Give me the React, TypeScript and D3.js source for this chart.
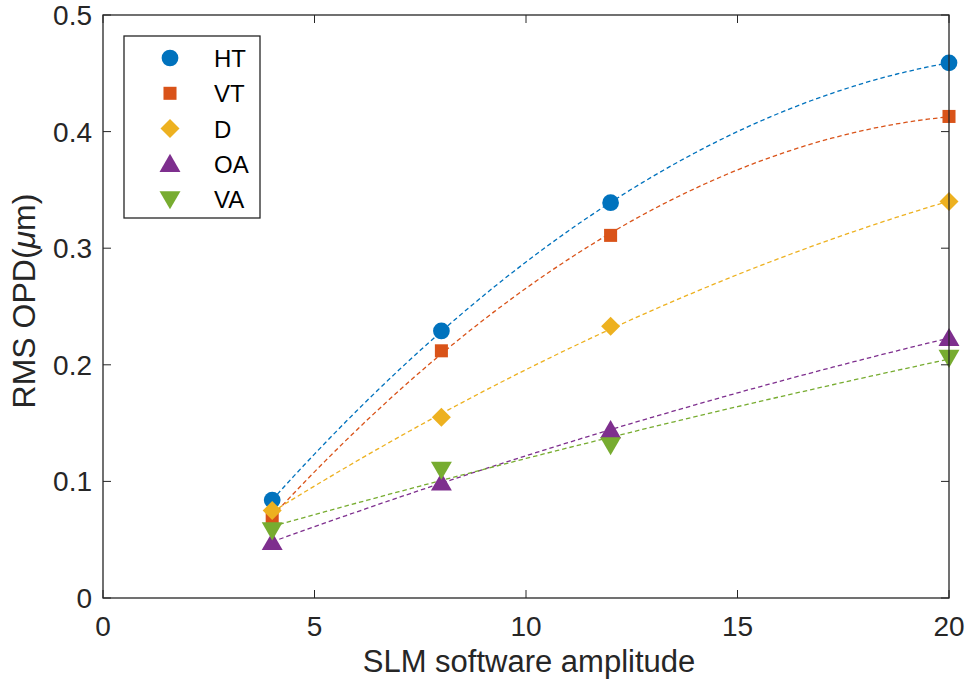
import { useMemo } from 'react';
import * as d3 from 'd3';

// x values shared by every series
const AMPLITUDES = [4, 8, 12, 20];

// RMS OPD (µm) per aberration
const HT = [0.084, 0.229, 0.339, 0.459];
const VT = [0.069, 0.212, 0.311, 0.413];
const D  = [0.075, 0.155, 0.233, 0.340];
const OA = [0.048, 0.099, 0.144, 0.223];
const VA = [0.058, 0.110, 0.131, 0.206];

const SERIES_NAMES = ['HT', 'VT', 'D', 'OA', 'VA'];
const X_TICKS = [0, 5, 10, 15, 20];
const Y_TICKS = [0, 0.1, 0.2, 0.3, 0.4, 0.5];

const W = 968;
const H = 695;
const M = { left: 103, right: 19, top: 15, bottom: 97 };
const AXIS = '#262626';
const FONT = '"Liberation Sans", Arial, Helvetica, sans-serif';

const COLORS = ['#0072BD', '#D95319', '#EDB120', '#7E2F8E', '#77AC30'];

// MATLAB-like marker outlines, centred on 0,0
const diamond = (r: number) => `M0,${-r}L${r},0L0,${r}L${-r},0Z`;
const MARKER_PATHS = [
  d3.symbol().type(d3.symbolCircle).size(220)() ?? '',
  d3.symbol().type(d3.symbolSquare).size(170)() ?? '',
  diamond(9.5),
  d3.symbol().type(d3.symbolTriangle).size(190)() ?? '',
  d3.symbol().type(d3.symbolTriangle).size(190)() ?? '',
];

// least-squares quadratic, as the dashed trend lines in the source are fits
function quadFit(xs: number[], ys: number[]) {
  const n = xs.length;
  let s1 = 0, s2 = 0, s3 = 0, s4 = 0, t0 = 0, t1 = 0, t2 = 0;
  xs.forEach((x, i) => {
    const y = ys[i];
    s1 += x; s2 += x * x; s3 += x ** 3; s4 += x ** 4;
    t0 += y; t1 += x * y; t2 += x * x * y;
  });
  const A = [[n, s1, s2, t0], [s1, s2, s3, t1], [s2, s3, s4, t2]];
  for (let c = 0; c < 3; c++) {
    for (let r = c + 1; r < 3; r++) {
      const f = A[r][c] / A[c][c];
      for (let k = c; k < 4; k++) A[r][k] -= f * A[c][k];
    }
  }
  const coef = [0, 0, 0];
  for (let r = 2; r >= 0; r--) {
    let s = A[r][3];
    for (let k = r + 1; k < 3; k++) s -= A[r][k] * coef[k];
    coef[r] = s / A[r][r];
  }
  return (x: number) => coef[0] + coef[1] * x + coef[2] * x * x;
}

export default function App() {
  const x = d3.scaleLinear().domain([0, 20]).range([M.left, W - M.right]);
  const y = d3.scaleLinear().domain([0, 0.5]).range([H - M.bottom, M.top]);
  const data = [HT, VT, D, OA, VA];

  const fits = useMemo(() => data.map((ys) => {
    const f = quadFit(AMPLITUDES, ys);
    const xs = d3.range(AMPLITUDES[0], AMPLITUDES[AMPLITUDES.length - 1] + 0.001, 0.25);
    return d3.line<number>().x((v) => x(v)).y((v) => y(f(v)))(xs) ?? '';
  }), []);

  const x0 = M.left, x1 = W - M.right, y0 = H - M.bottom, y1 = M.top;
  const TICK = 8;

  const marker = (i: number, cx: number, cy: number, key: string) => {
    const rot = i === 4 ? 180 : 0;
    const dy = i === 3 ? 2 : i === 4 ? -2 : 0;
    return (
      <path key={key} d={MARKER_PATHS[i]} fill={COLORS[i]}
        transform={`translate(${cx},${cy + dy}) rotate(${rot})`} />
    );
  };

  return (
    <svg width={W} height={H} style={{ position: 'absolute', left: 0, top: 0, background: '#fff' }}
      fontFamily={FONT}>
      {/* fit lines */}
      {fits.map((d, i) => (
        <path key={`fit-${i}`} d={d} fill="none" stroke={COLORS[i]} strokeWidth={1.3} strokeDasharray="4.5 3" />
      ))}

      {/* markers */}
      {data.map((ys, i) => ys.map((v, j) => marker(i, x(AMPLITUDES[j]), y(v), `m-${i}-${j}`)))}

      {/* axes box */}
      <rect x={x0} y={y1} width={x1 - x0} height={y0 - y1} fill="none" stroke={AXIS} strokeWidth={1.3} />
      {X_TICKS.map((t) => (
        <g key={`xt-${t}`}>
          <line x1={x(t)} x2={x(t)} y1={y0} y2={y0 - TICK} stroke={AXIS} strokeWidth={1} />
          <line x1={x(t)} x2={x(t)} y1={y1} y2={y1 + TICK} stroke={AXIS} strokeWidth={1} />
          <text x={x(t)} y={y0 + 38} textAnchor="middle" fontSize={28} fill={AXIS}>{t}</text>
        </g>
      ))}
      {Y_TICKS.map((t) => (
        <g key={`yt-${t}`}>
          <line x1={x0} x2={x0 + TICK} y1={y(t)} y2={y(t)} stroke={AXIS} strokeWidth={1} />
          <line x1={x1} x2={x1 - TICK} y1={y(t)} y2={y(t)} stroke={AXIS} strokeWidth={1} />
          <text x={x0 - 11} y={y(t) + 10} textAnchor="end" fontSize={28} fill={AXIS}>{t === 0 ? '0' : t.toFixed(1)}</text>
        </g>
      ))}

      {/* axis titles */}
      <text x={(x0 + x1) / 2 + 3} y={H - 23} textAnchor="middle" fontSize={31} fill={AXIS}>SLM software amplitude</text>
      <text transform={`translate(35, 301) rotate(-90)`} textAnchor="middle" fontSize={32} fill={AXIS}>
        RMS OPD(<tspan fontStyle="italic">μ</tspan>m)
      </text>

      {/* legend */}
      <rect x={124} y={36} width={136} height={182} fill="#fff" stroke={AXIS} strokeWidth={1.3} />
      {SERIES_NAMES.map((name, i) => {
        const ly = 58 + i * 35.3;
        return (
          <g key={`lg-${name}`}>
            {marker(i, 170, ly, `lm-${i}`)}
            <text x={214} y={ly + 9} fontSize={24} fill="#000">{name}</text>
          </g>
        );
      })}
    </svg>
  );
}
